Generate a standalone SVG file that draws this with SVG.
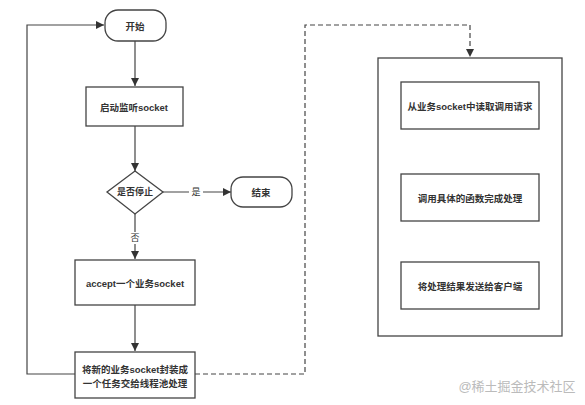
<svg xmlns="http://www.w3.org/2000/svg" width="585" height="405" viewBox="0 0 585 405">
<defs>
<marker id="arr" viewBox="0 0 10 10" refX="10" refY="5" markerWidth="8" markerHeight="8" markerUnits="userSpaceOnUse" orient="auto">
<path d="M0,0 L10,5 L0,10 z" fill="#333"/>
</marker>
<style>
.shape{fill:#fff;stroke:#444;stroke-width:1.3}
.t{font-family:"Liberation Sans","Noto Sans CJK SC",sans-serif;font-size:9.5px;font-weight:bold;fill:#333;text-anchor:middle;dominant-baseline:central}
.line{fill:none;stroke:#444;stroke-width:1.2}
.dash{stroke-dasharray:5,3}
.lbl{font-family:"Liberation Sans","Noto Sans CJK SC",sans-serif;font-size:9px;fill:#333;text-anchor:middle;dominant-baseline:central}
</style>
</defs>
<rect width="585" height="405" fill="#fff"/>
<g id="connectors">
<path class="line" d="M135,41 V86" marker-end="url(#arr)"/>
<path class="line" d="M135,126 V171" marker-end="url(#arr)"/>
<path class="line" d="M163,192 H231" marker-end="url(#arr)"/>
<rect x="189" y="186" width="14" height="12" fill="#fff"/>
<text class="lbl" x="196" y="192">是</text>
<path class="line" d="M135,214 V259" marker-end="url(#arr)"/>
<rect x="129" y="232" width="12" height="12" fill="#fff"/>
<text class="lbl" x="135" y="238">否</text>
<path class="line" d="M135,305 V351" marker-end="url(#arr)"/>
<path class="line" d="M75,374 H27 V25 H104" marker-end="url(#arr)"/>
<path class="line dash" d="M195,374 H305 V25 H470 V57" marker-end="url(#arr)"/>
</g>
<g id="start">
<rect class="shape" x="105" y="10" width="61" height="31" rx="13"/>
<text class="t" x="135" y="26">开始</text>
</g>
<g id="listen">
<rect class="shape" x="86" y="87" width="97" height="39"/>
<text class="t" x="134" y="107">启动监听socket</text>
</g>
<g id="decision">
<path class="shape" d="M135,171 L163,192 L135,214 L107,192 z"/>
<text class="t" x="135" y="192" style="font-size:9px">是否停止</text>
</g>
<g id="end">
<rect class="shape" x="231" y="177" width="61" height="30" rx="12"/>
<text class="t" x="261" y="192">结束</text>
</g>
<g id="accept">
<rect class="shape" x="75" y="260" width="120" height="45"/>
<text class="t" x="135" y="283">accept一个业务socket</text>
</g>
<g id="wrap">
<rect class="shape" x="75" y="352" width="120" height="46"/>
<text class="t" x="135" y="369">将新的业务socket封装成</text>
<text class="t" x="135" y="383">一个任务交给线程池处理</text>
</g>
<g id="container">
<rect class="shape" x="378" y="58" width="184" height="278"/>
</g>
<g id="read">
<rect class="shape" x="401" y="82" width="138" height="47"/>
<text class="t" x="470" y="106">从业务socket中读取调用请求</text>
</g>
<g id="call">
<rect class="shape" x="401" y="174" width="138" height="47"/>
<text class="t" x="470" y="198">调用具体的函数完成处理</text>
</g>
<g id="send">
<rect class="shape" x="401" y="262" width="138" height="47"/>
<text class="t" x="470" y="286">将处理结果发送给客户端</text>
</g>
<text x="517" y="386" style="font-family:'Liberation Sans','Noto Sans CJK SC',sans-serif;font-size:13px;fill:#bbb;text-anchor:middle;dominant-baseline:central">@稀土掘金技术社区</text>
</svg>
